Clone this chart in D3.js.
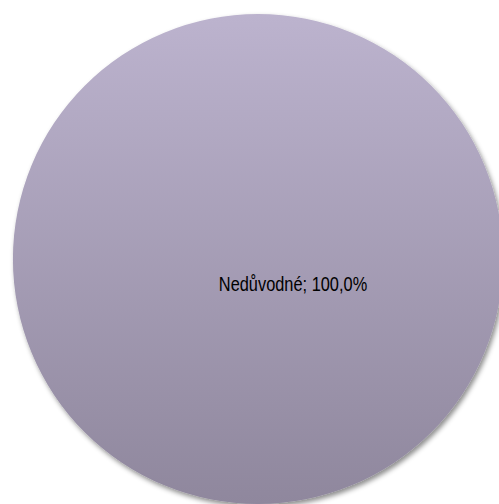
<!DOCTYPE html>
<html><head><meta charset="utf-8">
<script src="https://cdn.jsdelivr.net/npm/d3@7"></script>
<style>body{margin:0;background:#fff}svg{display:block}</style>
</head><body>
<script>
const categories = ["Nedůvodné"];
const values = [100.0];
const labels = ["Nedůvodné; 100,0%"];

const W = 499, H = 504;
const cx = 258, cy = 259, R = 245;
const svg = d3.select("body").append("svg").attr("width", W).attr("height", H);
const defs = svg.append("defs");
const grad = defs.append("linearGradient").attr("id","g").attr("x1",0).attr("y1",0).attr("x2",0).attr("y2",1);
grad.append("stop").attr("offset","0%").attr("stop-color","#bcb3ce");
grad.append("stop").attr("offset","100%").attr("stop-color","#8f879d");
const f = defs.append("filter").attr("id","sh").attr("x","-10%").attr("y","-10%").attr("width","120%").attr("height","130%");
f.append("feGaussianBlur").attr("in","SourceAlpha").attr("stdDeviation",2.5);
f.append("feOffset").attr("dx",1.5).attr("dy",3).attr("result","ob");
f.append("feFlood").attr("flood-color","#000").attr("flood-opacity",0.45);
f.append("feComposite").attr("in2","ob").attr("operator","in");
const m = f.append("feMerge");
m.append("feMergeNode");
m.append("feMergeNode").attr("in","SourceGraphic");

const pie = d3.pie().sort(null).value(d => d)(values);
const arc = d3.arc().innerRadius(0).outerRadius(R);
const g = svg.append("g").attr("transform", `translate(${cx},${cy})`);
g.selectAll("path").data(pie).join("path")
  .attr("d", arc).attr("fill","url(#g)").attr("filter","url(#sh)");
g.selectAll("text").data(pie).join("text")
  .attr("transform", "translate(35,32) scale(0.84,1)")
  .attr("text-anchor","middle")
  .attr("font-family","Liberation Sans, Arial, sans-serif")
  .attr("font-size", 19.5).attr("fill","#000")
  .text((d,i) => labels[i]);
</script>
</body></html>
